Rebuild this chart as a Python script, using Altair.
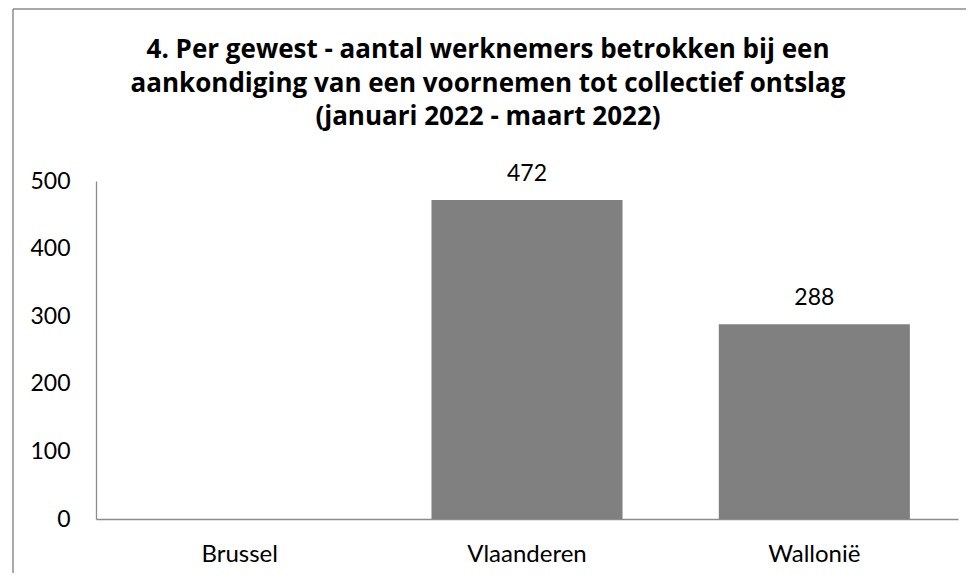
import altair as alt
import pandas as pd

regions = ["Brussel", "Vlaanderen", "Wallonië"]
workers = [0, 472, 288]
y_ticks = [0, 100, 200, 300, 400, 500]
title_lines = [
    "4. Per gewest - aantal werknemers betrokken bij een",
    "aankondiging van een voornemen tot collectief ontslag",
    "(januari 2022 - maart 2022)",
]

df = pd.DataFrame({"gewest": regions, "aantal": workers})
df["label"] = [str(v) if v > 0 else "" for v in workers]

FONT = "Lato"
TITLE_FONT = "Open Sans"
AXIS_COLOR = "#8c8c8c"

x_enc = alt.X(
    "gewest:N",
    sort=regions,
    scale=alt.Scale(paddingInner=0.335, paddingOuter=0.1675),
    axis=alt.Axis(
        title=None, labelAngle=0, ticks=False, domainColor=AXIS_COLOR,
        domainWidth=1.3, labelFont=FONT, labelFontSize=24, labelColor="#000000",
        labelPadding=23,
    ),
)
y_enc = alt.Y(
    "aantal:Q",
    scale=alt.Scale(domain=[0, 500], nice=False),
    axis=alt.Axis(
        title=None, values=y_ticks, grid=False, ticks=False, domainColor=AXIS_COLOR,
        domainWidth=1.3, labelFont=FONT, labelFontSize=23, labelColor="#000000",
        labelPadding=26,
    ),
)

base = alt.Chart(df)
bars = base.mark_bar(color="#808080").encode(x=x_enc, y=y_enc)
labels = base.mark_text(
    font=FONT, fontSize=23, color="#000000", baseline="alphabetic", dy=-19
).encode(x=alt.X("gewest:N", sort=regions), y="aantal:Q", text="label:N")

single_df = pd.DataFrame({"k": [0]})
left_border = alt.Chart(single_df).mark_rule(color=AXIS_COLOR, strokeWidth=1.5).encode(
    x=alt.value(-83), y=alt.value(-172), y2=alt.value(700)
)
top_border = alt.Chart(single_df).mark_rule(color=AXIS_COLOR, strokeWidth=1.5).encode(
    x=alt.value(-83), x2=alt.value(1000), y=alt.value(-172)
)
title_text = alt.Chart(single_df).mark_text(
    font=TITLE_FONT, fontSize=26, fontWeight="bold", color="#000000",
    align="center", baseline="alphabetic", lineHeight=33.5,
).encode(x=alt.value(392), y=alt.value(-123), text=alt.value(title_lines))

chart = alt.layer(bars, labels, left_border, top_border, title_text).properties(
    width=862,
    height=338,
    autosize=alt.AutoSizeParams(type="none"),
    padding={"left": 88, "top": 173, "right": 8, "bottom": 54},
).configure_view(stroke=None)

chart.save("out.html", embed_options={"renderer": "svg", "actions": False})
